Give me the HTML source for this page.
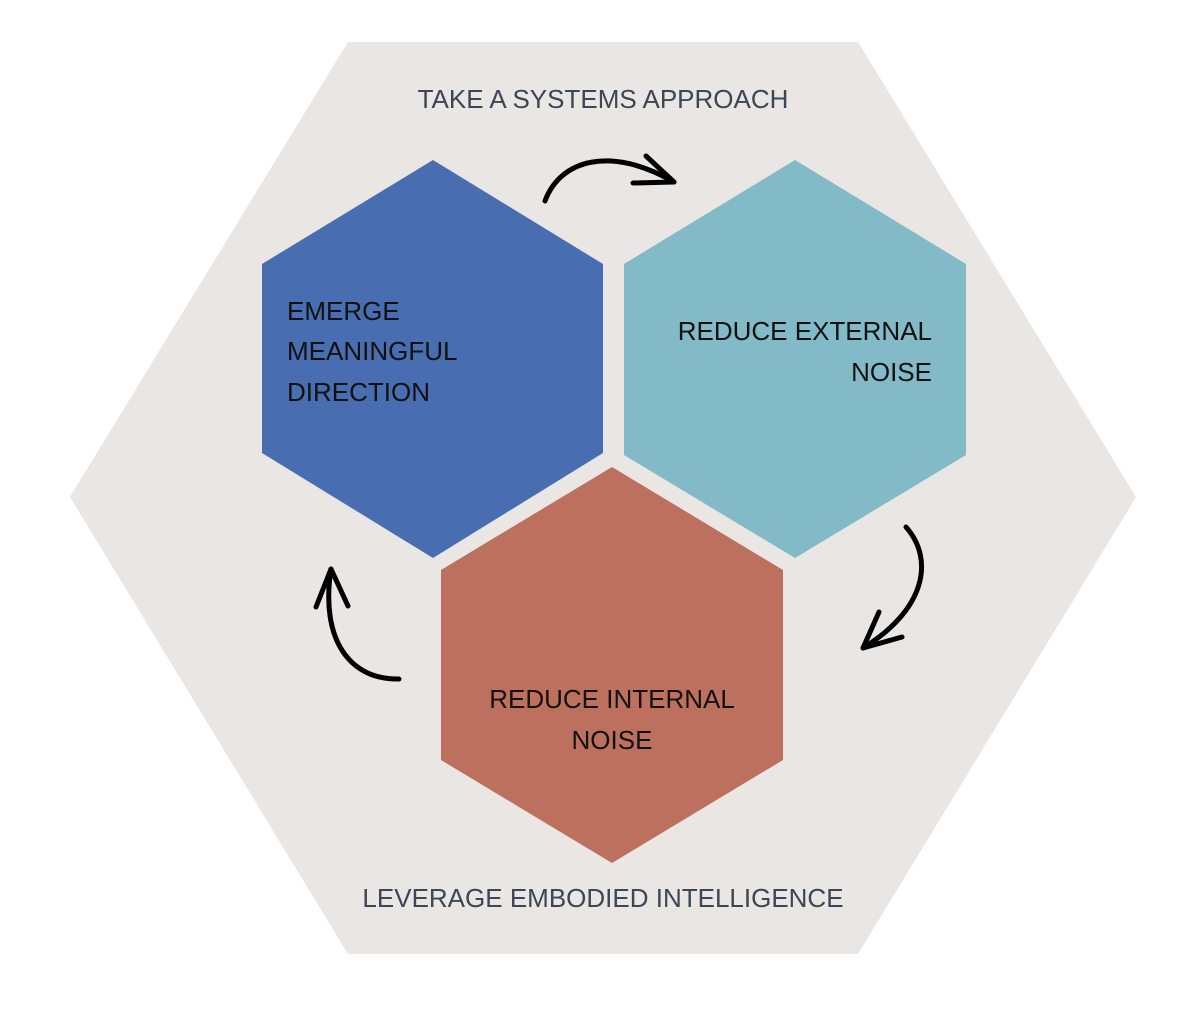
<!DOCTYPE html>
<html><head><meta charset="utf-8"><style>
html,body{margin:0;padding:0;background:#fff;}
svg{display:block;}
text{font-family:"Liberation Sans",sans-serif;}
</style></head><body>
<svg width="1188" height="1032" viewBox="0 0 1188 1032" xmlns="http://www.w3.org/2000/svg">
<polygon points="348,42 858,42 1136,497 858,954 348,954 70,497" fill="#e9e6e3"/>
<polygon points="433,160 603,264 603,453 433,558 262,453 262,264" fill="#486eb1"/>
<polygon points="795,160 966,264 966,455 795,558 624,455 624,264" fill="#82bac7"/>
<polygon points="612,467 783,570 783,760 612,863 441,760 441,570" fill="#bd705e"/>
<g fill="none" stroke="#000" stroke-width="5" stroke-linecap="round" stroke-linejoin="round">
<path d="M545,201 C560,160 610,145 674,182"/>
<path d="M646,156 L674,182 L633,183"/>
<path d="M906,527 C935,560 925,610 863,648"/>
<path d="M879,612 L863,648 L902,637"/>
<path d="M399,679 C350,680 320,640 331,569"/>
<path d="M316,607 L331,569 L348,606"/>
</g>
<g font-size="26" fill="#3c4656" text-anchor="middle">
<text x="603" y="108">TAKE A SYSTEMS APPROACH</text>
<text x="603" y="907">LEVERAGE EMBODIED INTELLIGENCE</text>
</g>
<g font-size="26" fill="#111">
<text x="287" y="320">EMERGE</text>
<text x="287" y="360">MEANINGFUL</text>
<text x="287" y="401">DIRECTION</text>
<text x="932" y="340" text-anchor="end">REDUCE EXTERNAL</text>
<text x="932" y="381" text-anchor="end">NOISE</text>
<text x="612" y="708" text-anchor="middle">REDUCE INTERNAL</text>
<text x="612" y="749" text-anchor="middle">NOISE</text>
</g>
</svg>
</body></html>
